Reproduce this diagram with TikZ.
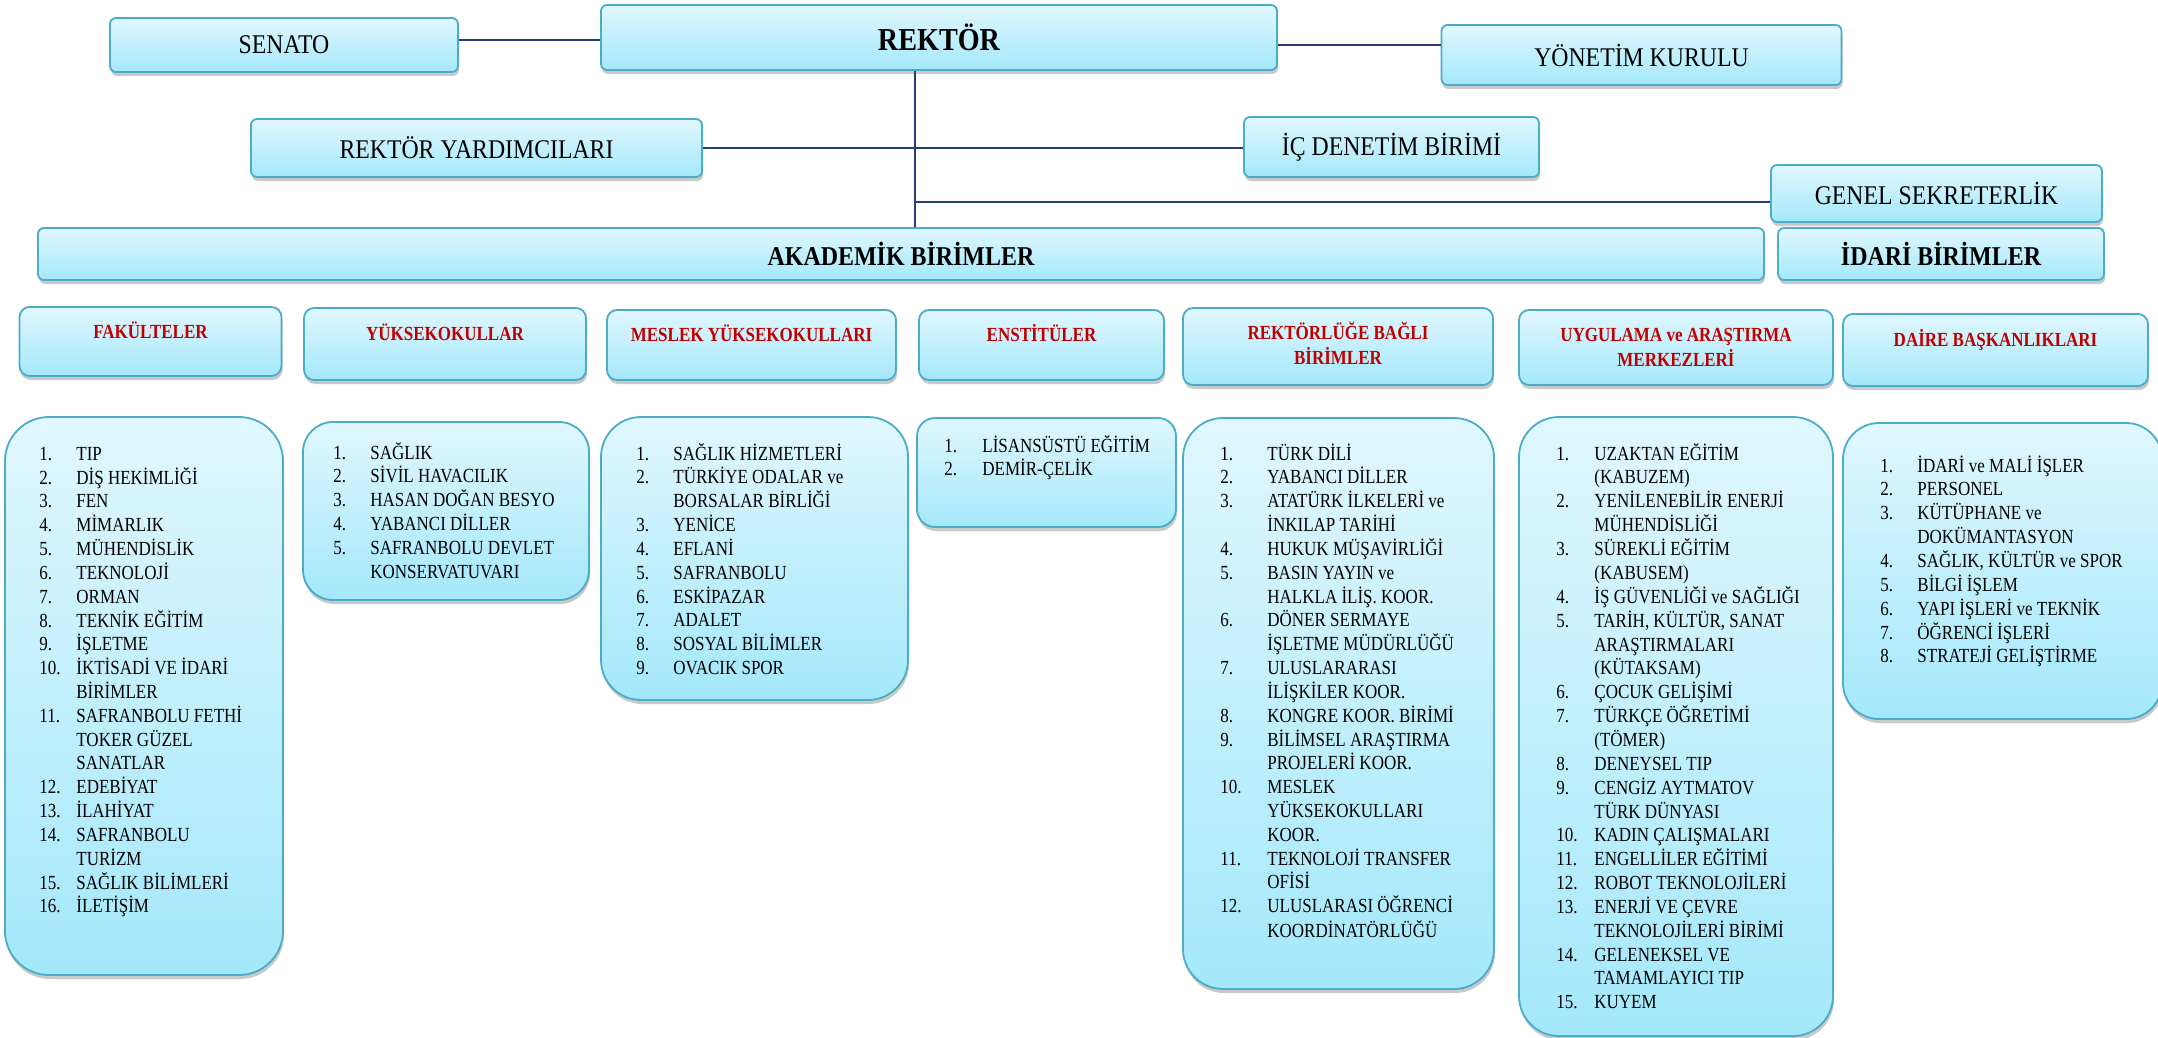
\documentclass[tikz,border=0pt]{standalone}
\usepackage{fontspec}
\setmainfont{Liberation Serif}
\newfontfamily\ustfont[FakeStretch=0.88]{Liberation Serif}
\newfontfamily\listefont[FakeStretch=0.85]{Liberation Serif}
\usetikzlibrary{shadows}

\begin{document}
\begin{tikzpicture}[x=0.5pt, y=-0.5pt,
		kutu/.style={draw=kenarMavi, line width=0.9pt, top color=kutuUst, bottom color=kutuAlt, inner sep=0pt,
			drop shadow={shadow xshift=0.5pt, shadow yshift=-2pt, opacity=0.35, fill=black!60}},
		ustKutu/.style={kutu, rounded corners=3pt, font=\ustfont\fontsize{13.5}{16}\selectfont},
		basKutu/.style={kutu, rounded corners=5pt},
		listeKutu/.style={kutu, rounded corners=20pt},
		baslik/.style={anchor=base, inner sep=0pt, text=baslikKirmizi, font=\listefont\bfseries\fontsize{10}{12.5}\selectfont},
		liste/.style={anchor=base west, inner sep=0pt, font=\listefont\fontsize{10}{11.9}\selectfont},
		baglanti/.style={draw=cizgiLaci, line width=1pt}]
		
		% Define colors
		
		\definecolor{kutuUst}{RGB}{224,247,254}
		
		\definecolor{kutuAlt}{RGB}{164,232,251}
		
		\definecolor{kenarMavi}{RGB}{75,172,198}
		
		\definecolor{cizgiLaci}{RGB}{35,64,117}
		
		\definecolor{baslikKirmizi}{RGB}{192,0,0}
		
		% Numbered list in two columns
		
		\newcommand{\liste}[2]{\begin{tabular}[t]{@{}p{#1}@{}l@{}}#2\end{tabular}}
		
		\path[use as bounding box, fill=white] (0,0) rectangle (2158,1038);
		
		% Top of the chart
		
		\node[ustKutu, minimum width=174pt, minimum height=27pt] (senato) at (284,45) {SENATO};
		
		\node[ustKutu, minimum width=338pt, minimum height=32.5pt, font=\ustfont\bfseries\fontsize{16}{19}\selectfont] (rektor) at (939,37.5) {REKTÖR};
		
		\node[ustKutu, minimum width=200pt, minimum height=30pt] (yonetim) at (1641.5,55) {YÖNETİM KURULU};
		
		\node[ustKutu, minimum width=225.5pt, minimum height=29pt] (yardimci) at (476.5,148) {REKTÖR YARDIMCILARI};
		
		\node[ustKutu, minimum width=147.5pt, minimum height=30pt] (icdenetim) at (1391.5,147) {İÇ DENETİM BİRİMİ};
		
		\node[ustKutu, minimum width=165.5pt, minimum height=28.5pt] (genel) at (1936.5,193.5) {GENEL SEKRETERLİK};
		
		\node[ustKutu, minimum width=863pt, minimum height=26pt, font=\ustfont\bfseries\fontsize{13.6}{16}\selectfont] (akademik) at (901,254) {AKADEMİK BİRİMLER};
		
		\node[ustKutu, minimum width=163pt, minimum height=26pt, font=\ustfont\bfseries\fontsize{13.6}{16}\selectfont] (idari) at (1941,254) {İDARİ BİRİMLER};
		
		% Lines from the rector
		
		\coordinate (omurga) at ([xshift=-12pt]rektor.south);
		
		\draw[baglanti] ([yshift=2.5pt]senato.east) -- ([yshift=2.5pt]senato.east -| rektor.west);
		
		\draw[baglanti] ([yshift=5pt]yonetim.west) -- ([yshift=5pt]yonetim.west -| rektor.east);
		
		\draw[baglanti] (omurga) -- (omurga |- akademik.north);
		
		\draw[baglanti] (yardimci.east) -- (yardimci.east -| icdenetim.west);
		
		\draw[baglanti] ([yshift=-4.25pt]genel.west) -- ([yshift=-4.25pt]genel.west -| omurga);
		
		% Group headers
		
		\node[basKutu, minimum width=131pt, minimum height=34.5pt] (fakBas) at (150.5,341.5) {};
		
		\node[basKutu, minimum width=141pt, minimum height=36pt] (yoBas) at (445,344) {};
		
		\node[basKutu, minimum width=144.5pt, minimum height=35pt] (myoBas) at (751.5,345) {};
		
		\node[basKutu, minimum width=122.5pt, minimum height=35pt] (ensBas) at (1041.5,345) {};
		
		\node[basKutu, minimum width=155pt, minimum height=38.5pt] (rbbBas) at (1338,346.5) {};
		
		\node[basKutu, minimum width=157pt, minimum height=37.5pt] (uamBas) at (1676,347.5) {};
		
		\node[basKutu, minimum width=152.5pt, minimum height=36pt] (daiBas) at (1995.5,350) {};
		
		\node[baslik] (fakBaslik) at (150.5,338.5) {FAKÜLTELER};
		
		\node[baslik] (yoBaslik) at (445,340.5) {YÜKSEKOKULLAR};
		
		\node[baslik] (myoBaslik) at (751.5,341.5) {MESLEK YÜKSEKOKULLARI};
		
		\node[baslik] (ensBaslik) at (1041.5,341.5) {ENSTİTÜLER};
		
		\node[baslik] (rbbBaslik) at (1338,339) {\begin{tabular}[t]{@{}c@{}}REKTÖRLÜĞE BAĞLI\\BİRİMLER\end{tabular}};
		
		\node[baslik] (uamBaslik) at (1676,341) {\begin{tabular}[t]{@{}c@{}}UYGULAMA ve ARAŞTIRMA\\MERKEZLERİ\end{tabular}};
		
		\node[baslik] (daiBaslik) at (1995.5,346.5) {DAİRE BAŞKANLIKLARI};
		
		% List boxes
		
		\node[listeKutu, rounded corners=22pt, minimum width=139pt, minimum height=279pt] (fakKutu) at (144,696) {};
		
		\node[listeKutu, rounded corners=15pt, minimum width=143pt, minimum height=89pt] (yoKutu) at (446,511) {};
		
		\node[listeKutu, minimum width=153.5pt, minimum height=141.5pt] (myoKutu) at (754.5,558.5) {};
		
		\node[listeKutu, rounded corners=9pt, minimum width=129.5pt, minimum height=54.5pt] (ensKutu) at (1046.5,472.5) {};
		
		\node[listeKutu, minimum width=155.5pt, minimum height=285.5pt] (rbbKutu) at (1338.5,703.5) {};
		
		\node[listeKutu, minimum width=157pt, minimum height=309.5pt] (uamKutu) at (1676,726.5) {};
		
		\node[listeKutu, rounded corners=18pt, minimum width=159.5pt, minimum height=148pt] (daiKutu) at (2002.5,571) {};
		
		% List texts
		
		\node[liste] (fakListe) at (39,460) {\liste{18.5pt}{
			1. & TIP\\ 2. & DİŞ HEKİMLİĞİ\\ 3. & FEN\\ 4. & MİMARLIK\\ 5. & MÜHENDİSLİK\\
			6. & TEKNOLOJİ\\ 7. & ORMAN\\ 8. & TEKNİK EĞİTİM\\ 9. & İŞLETME\\
			10. & İKTİSADİ VE İDARİ\\ & BİRİMLER\\
			11. & SAFRANBOLU FETHİ\\ & TOKER GÜZEL\\ & SANATLAR\\
			12. & EDEBİYAT\\ 13. & İLAHİYAT\\ 14. & SAFRANBOLU\\ & TURİZM\\
			15. & SAĞLIK BİLİMLERİ\\ 16. & İLETİŞİM}};
		
		\node[liste] (yoListe) at (333,459) {\liste{18.5pt}{
			1. & SAĞLIK\\ 2. & SİVİL HAVACILIK\\ 3. & HASAN DOĞAN BESYO\\ 4. & YABANCI DİLLER\\
			5. & SAFRANBOLU DEVLET\\ & KONSERVATUVARI}};
		
		\node[liste] (myoListe) at (636,460) {\liste{18.5pt}{
			1. & SAĞLIK HİZMETLERİ\\ 2. & TÜRKİYE ODALAR ve\\ & BORSALAR BİRLİĞİ\\
			3. & YENİCE\\ 4. & EFLANİ\\ 5. & SAFRANBOLU\\ 6. & ESKİPAZAR\\
			7. & ADALET\\ 8. & SOSYAL BİLİMLER\\ 9. & OVACIK SPOR}};
		
		\node[liste] (ensListe) at (944,452) {\liste{19pt}{
			1. & LİSANSÜSTÜ EĞİTİM\\ 2. & DEMİR-ÇELİK}};
		
		\node[liste] (rbbListe) at (1220,460) {\liste{23.5pt}{
			1. & TÜRK DİLİ\\ 2. & YABANCI DİLLER\\ 3. & ATATÜRK İLKELERİ ve\\ & İNKILAP TARİHİ\\
			4. & HUKUK MÜŞAVİRLİĞİ\\ 5. & BASIN YAYIN ve\\ & HALKLA İLİŞ. KOOR.\\
			6. & DÖNER SERMAYE\\ & İŞLETME MÜDÜRLÜĞÜ\\ 7. & ULUSLARARASI\\ & İLİŞKİLER KOOR.\\
			8. & KONGRE KOOR. BİRİMİ\\ 9. & BİLİMSEL ARAŞTIRMA\\ & PROJELERİ KOOR.\\
			10. & MESLEK\\ & YÜKSEKOKULLARI\\ & KOOR.\\
			11. & TEKNOLOJİ TRANSFER\\ & OFİSİ\\
			12. & ULUSLARASI ÖĞRENCİ\\ & KOORDİNATÖRLÜĞÜ}};
		
		\node[liste] (uamListe) at (1556,460) {\liste{19pt}{
			1. & UZAKTAN EĞİTİM\\ & (KABUZEM)\\ 2. & YENİLENEBİLİR ENERJİ\\ & MÜHENDİSLİĞİ\\
			3. & SÜREKLİ EĞİTİM\\ & (KABUSEM)\\ 4. & İŞ GÜVENLİĞİ ve SAĞLIĞI\\
			5. & TARİH, KÜLTÜR, SANAT\\ & ARAŞTIRMALARI\\ & (KÜTAKSAM)\\
			6. & ÇOCUK GELİŞİMİ\\ 7. & TÜRKÇE ÖĞRETİMİ\\ & (TÖMER)\\ 8. & DENEYSEL TIP\\
			9. & CENGİZ AYTMATOV\\ & TÜRK DÜNYASI\\ 10. & KADIN ÇALIŞMALARI\\
			11. & ENGELLİLER EĞİTİMİ\\ 12. & ROBOT TEKNOLOJİLERİ\\
			13. & ENERJİ VE ÇEVRE\\ & TEKNOLOJİLERİ BİRİMİ\\
			14. & GELENEKSEL VE\\ & TAMAMLAYICI TIP\\ 15. & KUYEM}};
		
		\node[liste] (daiListe) at (1880,472) {\liste{18.5pt}{
			1. & İDARİ ve MALİ İŞLER\\ 2. & PERSONEL\\ 3. & KÜTÜPHANE ve\\ & DOKÜMANTASYON\\
			4. & SAĞLIK, KÜLTÜR ve SPOR\\ 5. & BİLGİ İŞLEM\\ 6. & YAPI İŞLERİ ve TEKNİK\\
			7. & ÖĞRENCİ İŞLERİ\\ 8. & STRATEJİ GELİŞTİRME}};
		
	\end{tikzpicture}
\end{document}
